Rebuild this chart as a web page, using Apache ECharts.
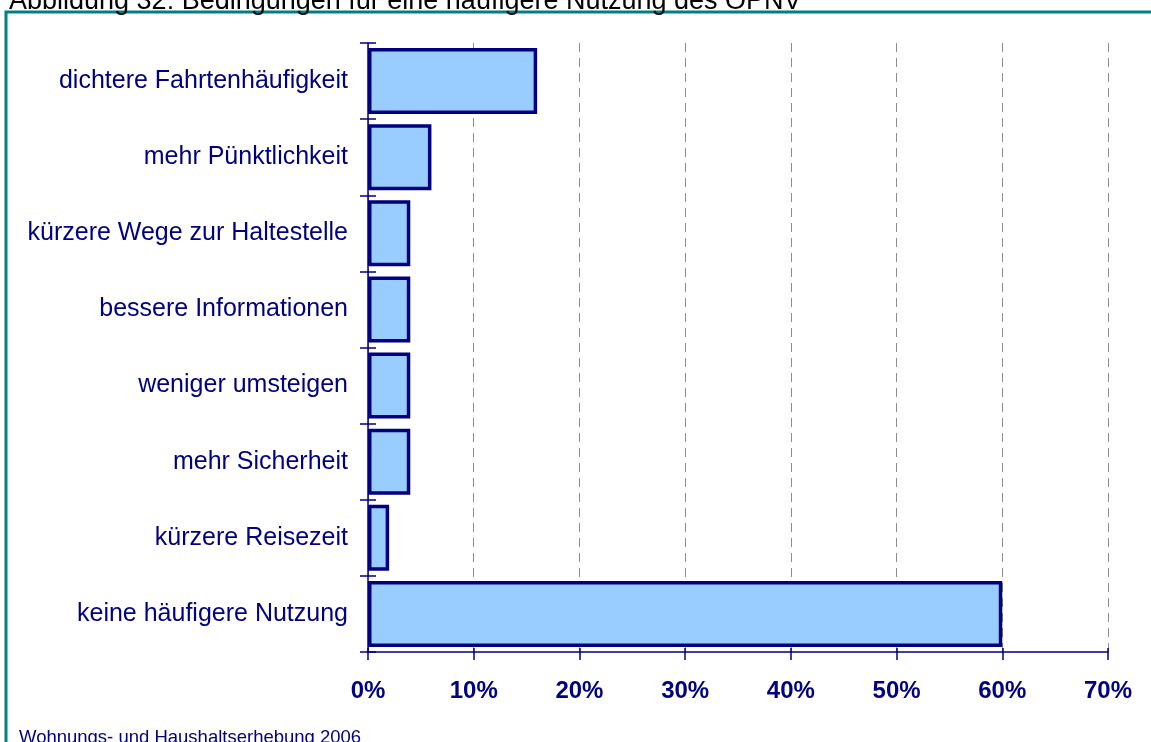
<!DOCTYPE html>
<html>
<head>
<meta charset="utf-8">
<script src="https://cdn.jsdelivr.net/npm/echarts@6/dist/echarts.min.js"></script>
<style>
  html, body { margin: 0; padding: 0; background: #fff; }
  #chart { width: 1151px; height: 742px; }
</style>
</head>
<body>
<div id="chart"></div>
<script>
// Categories from top to bottom as listed in the survey
const categories = [
  'dichtere Fahrtenhäufigkeit',
  'mehr Pünktlichkeit',
  'kürzere Wege zur Haltestelle',
  'bessere Informationen',
  'weniger umsteigen',
  'mehr Sicherheit',
  'kürzere Reisezeit',
  'keine häufigere Nutzung'
];
// Share of respondents in percent
const shares = [16, 6, 4, 4, 4, 4, 2, 60];
const axisMin = 0;
const axisMax = 70;
const axisStep = 10;

const titleText = 'Abbildung 32: Bedingungen für eine häufigere Nutzung des ÖPNV';
const sourceText = 'Wohnungs- und Haushaltserhebung 2006';

const navy = '#000080';
const fontStack = '"Liberation Sans", Arial, sans-serif';
const chart = echarts.init(document.getElementById('chart'));

// Category axis runs bottom-up in ECharts, so reverse to list top-down
const catsUp = categories.slice().reverse();
const valsUp = shares.slice().reverse();

chart.setOption({
  animation: false,
  backgroundColor: '#ffffff',
  grid: { left: 368, right: 43, top: 43, bottom: 90, containLabel: false },
  xAxis: [{
    type: 'value',
    min: axisMin, max: axisMax, interval: axisStep,
    axisLine: { show: true, lineStyle: { color: navy, width: 1.5 } },
    axisTick: { show: true, length: 8, lineStyle: { color: navy, width: 1.5 } },
    axisLabel: {
      margin: 27,
      color: navy, fontFamily: fontStack,
      fontSize: 24, fontWeight: 'bold',
      formatter: v => v + '%'
    },
    splitLine: { show: true, lineStyle: { color: '#8c8c8c', width: 1, type: [9, 6] } }
  }, {
    type: 'value',
    position: 'bottom',
    min: axisMin, max: axisMax, interval: axisStep,
    axisLine: { show: false },
    axisTick: { show: true, inside: true, length: 4, lineStyle: { color: navy, width: 1.5 } },
    axisLabel: { show: false },
    splitLine: { show: false }
  }],
  yAxis: [{
    type: 'category',
    data: catsUp,
    axisLine: { show: true, lineStyle: { color: navy, width: 1.5 } },
    axisTick: { show: true, length: 8, lineStyle: { color: navy, width: 1.5 } },
    axisLabel: {
      margin: 20,
      color: navy, fontFamily: fontStack, fontSize: 25
    },
    splitLine: { show: false }
  }, {
    type: 'category',
    data: catsUp,
    position: 'left',
    axisLine: { show: false },
    axisTick: { show: true, inside: true, length: 8, lineStyle: { color: navy, width: 1.5 } },
    axisLabel: { show: false },
    splitLine: { show: false }
  }],
  series: [{
    type: 'bar',
    xAxisIndex: 0,
    yAxisIndex: 0,
    data: valsUp,
    barWidth: 66,
    itemStyle: { color: '#99ccff', borderColor: navy, borderWidth: 3.5 },
    emphasis: { disabled: true }
  }],
  graphic: [
    {
      type: 'rect',
      shape: { x: 6, y: 12, width: 1300, height: 900 },
      style: { fill: 'none', stroke: '#008080', lineWidth: 3 },
      silent: true
    },
    {
      type: 'text',
      left: 9, top: -12,
      style: {
        text: titleText, fill: '#000000',
        font: '27px ' + fontStack
      }
    },
    {
      type: 'text',
      left: 19, top: 728,
      style: {
        text: sourceText, fill: navy,
        font: '18.5px ' + fontStack
      }
    }
  ]
});
</script>
</body>
</html>
